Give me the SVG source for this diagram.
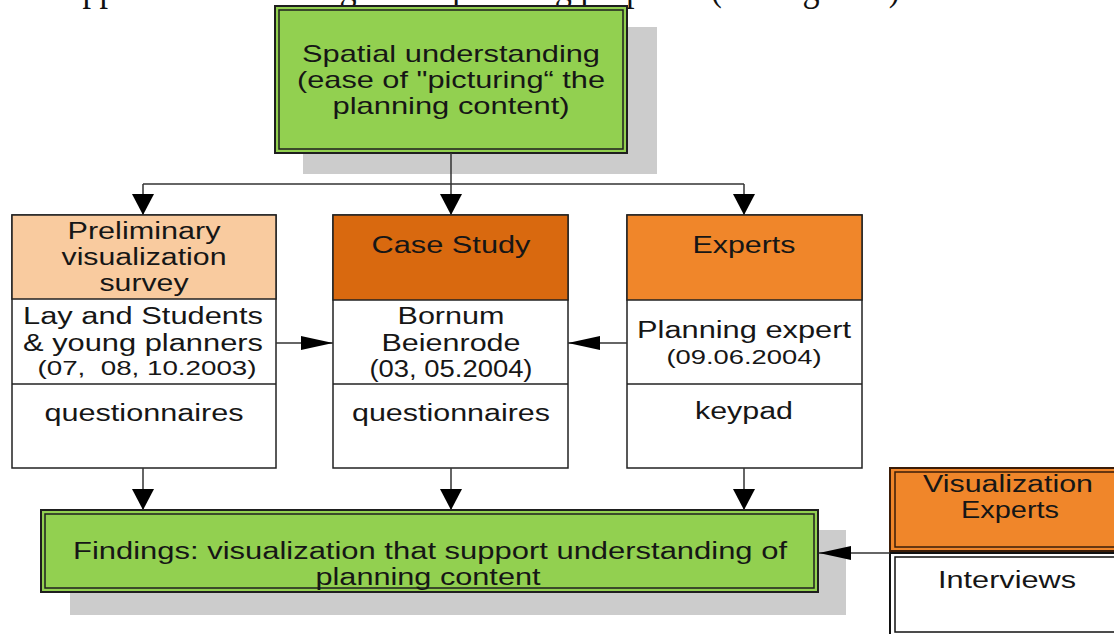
<svg xmlns="http://www.w3.org/2000/svg" width="1114" height="634" viewBox="0 0 1114 634">
<defs>
<style>
.t{font-family:"Liberation Sans",Arial,sans-serif;fill:#161616;text-anchor:middle}
.f23{font-size:23px}.f20{font-size:20px}.f24{font-size:24px}
.box{fill:#ffffff;stroke:#222;stroke-width:1.5}
.shadow{fill:#cccccc}
.green{fill:#92d050;stroke:#1e1e1e;stroke-width:2}
.ginner{fill:none;stroke:#1e1e1e;stroke-width:1.5}
.conn{fill:none;stroke:#333;stroke-width:1.5}
</style>
<marker id="aV" markerUnits="userSpaceOnUse" markerWidth="21" markerHeight="22" refX="21" refY="11" orient="auto" viewBox="0 0 21 22"><path d="M0,0 L21,11 L0,22 z" fill="#000"/></marker>
<marker id="aH" markerUnits="userSpaceOnUse" markerWidth="32" markerHeight="16" refX="32" refY="8" orient="auto" viewBox="0 0 32 16"><path d="M0,1 L32,8 L0,15 z" fill="#000"/></marker>
</defs>
<rect width="1114" height="634" fill="#ffffff"/>

<text transform="scale(0.854 1)" x="61" y="0" font-family="'Liberation Serif','Times New Roman',serif" font-size="40" fill="#111">support understanding of the planning purposes (see Figure 4).</text>

<g id="spatial">
<rect class="shadow" x="303" y="27" width="354" height="147"/>
<rect class="green" x="275" y="6" width="352" height="147"/>
<rect class="ginner" x="279" y="10" width="344" height="139"/>
<text class="t f24" x="451" y="62" textLength="298" lengthAdjust="spacingAndGlyphs">Spatial understanding</text>
<text class="t f24" x="451" y="88" textLength="308" lengthAdjust="spacingAndGlyphs">(ease of "picturing“ the</text>
<text class="t f24" x="451" y="114" textLength="237" lengthAdjust="spacingAndGlyphs">planning content)</text>
</g>

<g id="preliminary">
<rect class="box" x="12" y="215" width="264" height="253"/>
<rect x="12" y="215" width="264" height="84" fill="#f9cb9f" stroke="#222" stroke-width="1.5"/>
<line x1="12" y1="384" x2="276" y2="384" stroke="#222" stroke-width="1.5"/>
<text class="t f23" x="144" y="239" textLength="153" lengthAdjust="spacingAndGlyphs">Preliminary</text>
<text class="t f23" x="144" y="265" textLength="165" lengthAdjust="spacingAndGlyphs">visualization</text>
<text class="t f23" x="144" y="291" textLength="89" lengthAdjust="spacingAndGlyphs">survey</text>
<text class="t f23" x="143" y="324" textLength="240" lengthAdjust="spacingAndGlyphs">Lay and Students</text>
<text class="t f23" x="143" y="351" textLength="240" lengthAdjust="spacingAndGlyphs">&amp; young planners</text>
<text class="t f20" x="147" y="375" textLength="219" lengthAdjust="spacingAndGlyphs" xml:space="preserve">(07,  08, 10.2003)</text>
<text class="t f23" x="144" y="421" textLength="199" lengthAdjust="spacingAndGlyphs">questionnaires</text>
</g>

<g id="casestudy">
<rect class="box" x="333" y="215" width="235" height="253"/>
<rect x="333" y="215" width="235" height="85" fill="#d9690f" stroke="#222" stroke-width="1.5"/>
<line x1="333" y1="384" x2="568" y2="384" stroke="#222" stroke-width="1.5"/>
<text class="t f23" x="451" y="253" textLength="159" lengthAdjust="spacingAndGlyphs">Case Study</text>
<text class="t f23" x="451" y="324" textLength="107" lengthAdjust="spacingAndGlyphs">Bornum</text>
<text class="t f23" x="451" y="351" textLength="139" lengthAdjust="spacingAndGlyphs">Beienrode</text>
<text class="t f23" x="451" y="377" textLength="163" lengthAdjust="spacingAndGlyphs">(03, 05.2004)</text>
<text class="t f23" x="451" y="421" textLength="198" lengthAdjust="spacingAndGlyphs">questionnaires</text>
</g>

<g id="experts">
<rect class="box" x="627" y="215" width="235" height="253"/>
<rect x="627" y="215" width="235" height="85" fill="#f0862a" stroke="#222" stroke-width="1.5"/>
<line x1="627" y1="384" x2="862" y2="384" stroke="#222" stroke-width="1.5"/>
<text class="t f23" x="744" y="253" textLength="103" lengthAdjust="spacingAndGlyphs">Experts</text>
<text class="t f23" x="744" y="338" textLength="214" lengthAdjust="spacingAndGlyphs">Planning expert</text>
<text class="t f20" x="744" y="364" textLength="155" lengthAdjust="spacingAndGlyphs">(09.06.2004)</text>
<text class="t f23" x="744" y="419" textLength="98" lengthAdjust="spacingAndGlyphs">keypad</text>
</g>

<g id="findings">
<rect class="shadow" x="70" y="530" width="776" height="85"/>
<rect class="green" x="41" y="510" width="777" height="82"/>
<rect class="ginner" x="45" y="514" width="769" height="74"/>
<text class="t f23" x="430" y="559" textLength="714" lengthAdjust="spacingAndGlyphs">Findings: visualization that support understanding of</text>
<text class="t f23" x="428" y="585" textLength="225" lengthAdjust="spacingAndGlyphs">planning content</text>
</g>

<g id="visexperts">
<rect x="890" y="468" width="236" height="83" fill="#f0862a" stroke="#3a1c08" stroke-width="2"/>
<rect x="895" y="472" width="226" height="75" fill="none" stroke="#3a1c08" stroke-width="1.5"/>
<text class="t f23" x="1008" y="492" textLength="170" lengthAdjust="spacingAndGlyphs">Visualization</text>
<text class="t f23" x="1010" y="518" textLength="98" lengthAdjust="spacingAndGlyphs">Experts</text>
</g>

<g id="interviews">
<rect x="890" y="553" width="236" height="82" fill="#ffffff" stroke="#111" stroke-width="2"/>
<rect x="895" y="557" width="226" height="75" fill="none" stroke="#111" stroke-width="1.5"/>
<text class="t f23" x="1007" y="588" textLength="138" lengthAdjust="spacingAndGlyphs">Interviews</text>
</g>

<g id="connectors">
<path class="conn" d="M451,153 V215" marker-end="url(#aV)"/>
<path class="conn" d="M143,184 H744"/>
<path class="conn" d="M143,184 V215" marker-end="url(#aV)"/>
<path class="conn" d="M744,184 V215" marker-end="url(#aV)"/>
<path class="conn" d="M276,343 H333" marker-end="url(#aH)"/>
<path class="conn" d="M627,343 H568" marker-end="url(#aH)"/>
<path class="conn" d="M143,468 V510" marker-end="url(#aV)"/>
<path class="conn" d="M451,468 V510" marker-end="url(#aV)"/>
<path class="conn" d="M744,468 V510" marker-end="url(#aV)"/>
<path class="conn" d="M890,553 H819" marker-end="url(#aH)"/>
</g>
</svg>
